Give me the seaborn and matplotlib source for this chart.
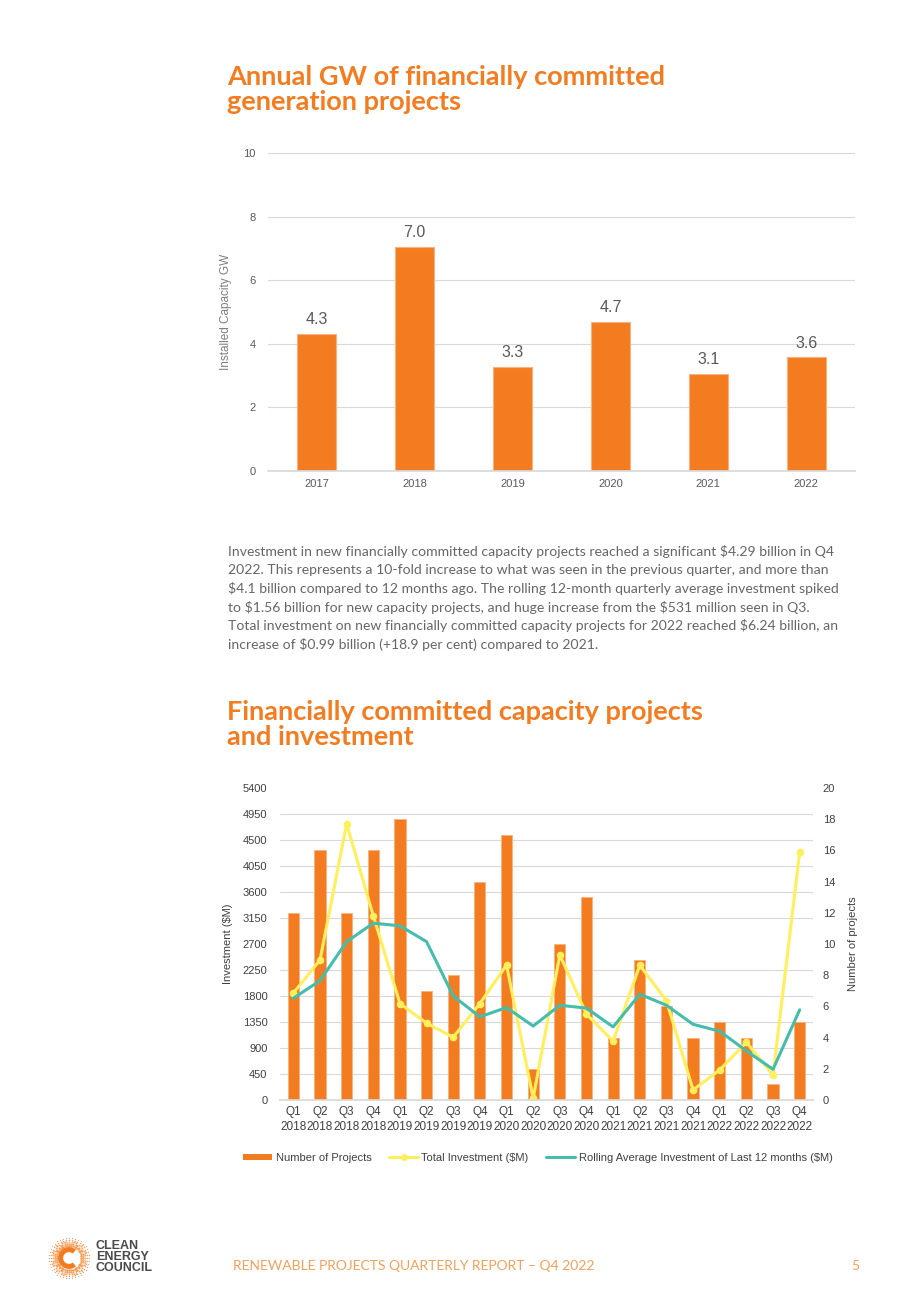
import numpy as np
import pandas as pd
import matplotlib.pyplot as plt
import seaborn as sns
from matplotlib.patches import Patch, Arc
from matplotlib.lines import Line2D

# ---- data ----
years = ['2017', '2018', '2019', '2020', '2021', '2022']
capacity_gw = [4.31, 7.04, 3.27, 4.69, 3.06, 3.57]

quarters = ['Q1\n2018', 'Q2\n2018', 'Q3\n2018', 'Q4\n2018',
            'Q1\n2019', 'Q2\n2019', 'Q3\n2019', 'Q4\n2019',
            'Q1\n2020', 'Q2\n2020', 'Q3\n2020', 'Q4\n2020',
            'Q1\n2021', 'Q2\n2021', 'Q3\n2021', 'Q4\n2021',
            'Q1\n2022', 'Q2\n2022', 'Q3\n2022', 'Q4\n2022']
num_projects = [12, 16, 12, 16, 18, 7, 8, 14, 17, 2, 10, 13, 4, 9, 6, 4, 5, 4, 1, 5]
total_investment = [1850, 2420, 4780, 3190, 1670, 1330, 1085, 1670, 2335, 30,
                    2510, 1485, 1020, 2330, 1720, 175, 520, 1000, 430, 4290]
rolling_avg = [1760, 2065, 2740, 3060, 3015, 2740, 1800, 1440, 1600, 1280,
               1640, 1590, 1265, 1830, 1640, 1310, 1190, 850, 531, 1560]

invest_ticks = list(range(0, 5401, 450))
project_ticks = list(range(0, 21, 2))

para_lines = [
    'Investment in new financially committed capacity projects reached a significant $4.29 billion in Q4',
    '2022. This represents a 10-fold increase to what was seen in the previous quarter, and more than',
    '$4.1 billion compared to 12 months ago. The rolling 12-month quarterly average investment spiked',
    'to $1.56 billion for new capacity projects, and huge increase from the $531 million seen in Q3.',
    'Total investment on new financially committed capacity projects for 2022 reached $6.24 billion, an',
    'increase of $0.99 billion (+18.9 per cent) compared to 2021.',
]

ORANGE = '#F47C20'
YELLOW = '#FFEF5C'
TEAL = '#45BDAE'
GRID = '#D9D9D9'
GREY = '#595959'
DARK = '#404040'

sns.set_theme(style='white')
plt.rcParams['font.family'] = ['Liberation Sans', 'DejaVu Sans']

W, H = 920, 1302
fig = plt.figure(figsize=(W / 100, H / 100), dpi=100)


def px(x, y):
    return x / W, 1 - y / H


def box(x0, y0, x1, y1):
    return [x0 / W, 1 - y1 / H, (x1 - x0) / W, (y1 - y0) / H]


title_kw = dict(color=ORANGE, fontsize=19.5, fontweight='bold', family=['Lato', 'DejaVu Sans'], va='center')
fig.text(*px(227, 77), 'Annual GW of financially committed', **title_kw)
fig.text(*px(227, 102), 'generation projects', **title_kw)

### top chart ###
ax1 = fig.add_axes(box(268, 153, 855, 471))
df_cap = pd.DataFrame({'year': years, 'gw': capacity_gw})
sns.barplot(data=df_cap, x='year', y='gw', ax=ax1, color=ORANGE, saturation=1,
            width=0.4, edgecolor='#F9B27E', linewidth=0.8)
ax1.set_ylim(0, 10)
ax1.set_xlim(-0.5, 5.5)
ax1.set_yticks(range(0, 11, 2))
ax1.yaxis.grid(True, color=GRID, lw=0.8)
ax1.set_axisbelow(True)
for s in ['left', 'right', 'top']:
    ax1.spines[s].set_visible(False)
ax1.spines['bottom'].set_color(GRID)
ax1.tick_params(axis='y', length=0, labelsize=8, labelcolor=GREY, pad=9)
ax1.tick_params(axis='x', length=0, labelsize=8, labelcolor=GREY, pad=6)
ax1.set_xlabel('')
ax1.set_ylabel('Installed Capacity GW', color='#7F7F7F', fontsize=8.5)
ax1.yaxis.set_label_coords((232 - 268) / 587, 0.5)
ax1.bar_label(ax1.containers[0], fmt='%.1f', padding=5, fontsize=11.5, color=GREY)

# paragraph
for i, line in enumerate(para_lines):
    fig.text(*px(228, 551 + i * 18.7), line, fontsize=10.05, color='#666666',
             family=['Lato', 'DejaVu Sans'], va='center', parse_math=False)

fig.text(*px(227, 712), 'Financially committed capacity projects', **title_kw)
fig.text(*px(227, 737), 'and investment', **title_kw)

### bottom chart ###
axL = fig.add_axes(box(280, 788, 813, 1100))
axR = axL.twinx()
axR.set_zorder(1)
axL.set_zorder(2)
axL.patch.set_visible(False)

df_q = pd.DataFrame({'quarter': quarters, 'projects': num_projects,
                     'total': total_investment, 'rolling': rolling_avg})
df_q['pos'] = range(len(df_q))

sns.barplot(data=df_q, x='quarter', y='projects', ax=axR, color=ORANGE, saturation=1,
            width=0.42, edgecolor='#F9B27E', linewidth=0.6)
axR.set_ylim(0, 20)
axR.set_yticks(project_ticks)
axR.set_yticks([v / 270 for v in invest_ticks], minor=True)
axR.yaxis.grid(True, which='minor', color=GRID, lw=0.8)
axR.yaxis.grid(False, which='major')
axR.set_axisbelow(True)
axR.tick_params(axis='y', which='both', length=0, labelsize=8, labelcolor=DARK, pad=7)
axR.set_ylabel('Number of projects', color=DARK, fontsize=8)
axR.yaxis.set_label_coords((848 - 280) / 533, 0.5)

sns.lineplot(data=df_q, x='pos', y='total', ax=axL, color=YELLOW, lw=2.2,
             marker='o', markersize=5.5, markeredgewidth=0)
sns.lineplot(data=df_q, x='pos', y='rolling', ax=axL, color=TEAL, lw=2.2)
axL.set_ylim(0, 5400)
axL.set_yticks(invest_ticks)
axL.set_xlim(-0.5, 19.5)
axL.set_xticks(range(len(quarters)))
axL.set_xticklabels(quarters, linespacing=1.4)
axL.tick_params(axis='y', length=0, labelsize=8, labelcolor=DARK, pad=9)
axL.tick_params(axis='x', length=0, labelsize=8.5, labelcolor=DARK, pad=4)
axL.set_xlabel('')
axL.set_ylabel('Investment ($M)', color=DARK, fontsize=8)
axL.yaxis.set_label_coords((233 - 280) / 533, 0.5)

for a in (axL, axR):
    for s in ['left', 'right', 'top']:
        a.spines[s].set_visible(False)
axR.spines['bottom'].set_visible(False)
axL.spines['bottom'].set_color(GRID)

handles = [Patch(facecolor=ORANGE, edgecolor='none'),
           Line2D([], [], color=YELLOW, lw=2.2, marker='o', markersize=5, markeredgewidth=0),
           Line2D([], [], color=TEAL, lw=2.2)]
labels = ['Number of Projects', 'Total Investment ($M)', 'Rolling Average Investment of Last 12 months ($M)']
fig.legend(handles, labels, loc='center', bbox_to_anchor=px(538, 1158), ncol=3, frameon=False,
           fontsize=8, handlelength=2.6, handleheight=0.5, columnspacing=1.6, handletextpad=0.3,
           labelcolor=DARK)

### footer ###
fig.text(*px(233, 1266), 'RENEWABLE PROJECTS QUARTERLY REPORT \u2013 Q4 2022', color='#F5A05A',
         fontsize=10, family=['Lato', 'DejaVu Sans'], va='center')
fig.text(*px(851, 1266), '5', color='#F5A05A', fontsize=10,
         family=['Lato', 'DejaVu Sans'], va='center')

# logo
axLogo = fig.add_axes(box(47, 1236, 91, 1280))
axLogo.set_xlim(-1.1, 1.1)
axLogo.set_ylim(-1.1, 1.1)
axLogo.axis('off')
for ang in np.linspace(0, 2 * np.pi, 40, endpoint=False):
    for r, sz in [(0.62, 3.0), (0.72, 2.4), (0.82, 1.8), (0.92, 1.2), (1.02, 0.8)]:
        axLogo.scatter(r * np.cos(ang), r * np.sin(ang), s=sz, color=ORANGE,
                       alpha=0.7, linewidths=0)
axLogo.add_patch(Arc((0, 0), 0.84, 0.84, theta1=50, theta2=310, color=ORANGE, lw=3.6))
logo_kw = dict(color='#4A4A4A', fontsize=9, fontweight='bold',
               family=['Liberation Sans Narrow', 'Liberation Sans'], va='center')
fig.text(*px(96, 1246), 'CLEAN', **logo_kw)
fig.text(*px(96, 1257), 'ENERGY', **logo_kw)
fig.text(*px(96, 1268), 'COUNCIL', **logo_kw)

fig.savefig('out.png', dpi=100, facecolor='white')
